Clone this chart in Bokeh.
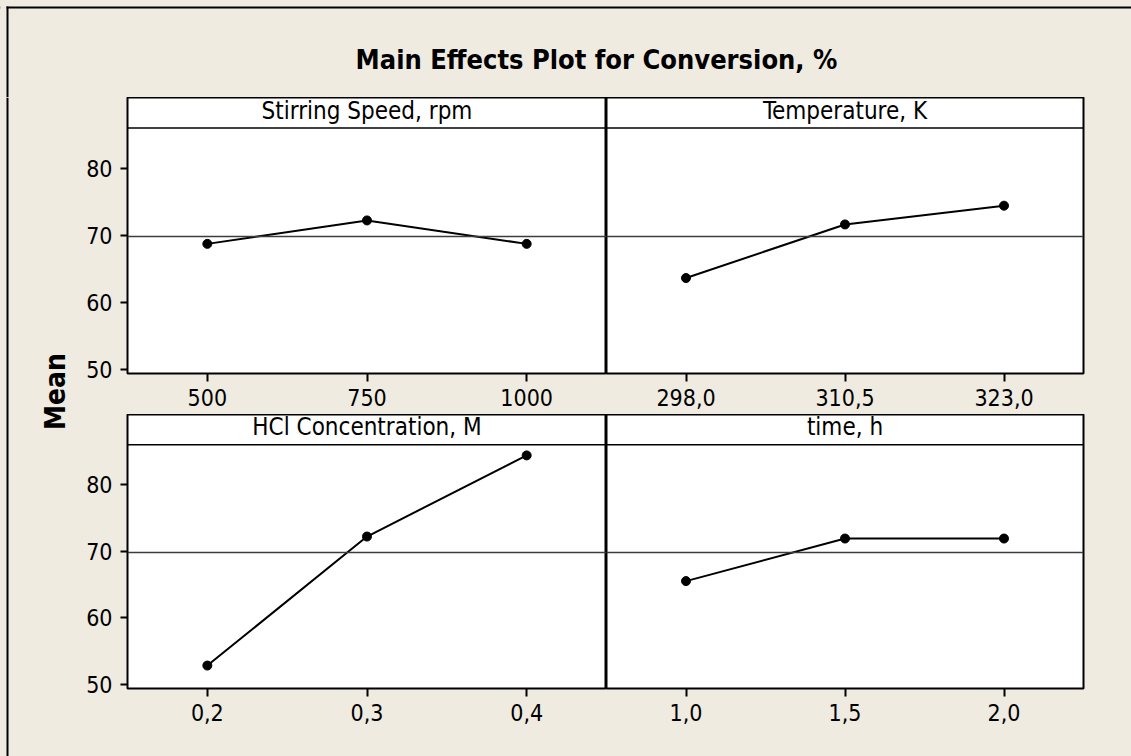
import math
from bokeh.plotting import figure
from bokeh.layouts import column, row
from bokeh.models import Range1d, FixedTicker, Span, Label, BoxAnnotation
from bokeh.embed import file_html
from bokeh.resources import INLINE

# ---------------- data ----------------
chart_title = "Main Effects Plot for Conversion, %"
y_label = "Mean"

stir_levels = [500, 750, 1000]
stir_means = [68.7, 72.2, 68.7]
stir_labels = ["500", "750", "1000"]

temp_levels = [298.0, 310.5, 323.0]
temp_means = [63.6, 71.6, 74.4]
temp_labels = ["298,0", "310,5", "323,0"]

hcl_levels = [0.2, 0.3, 0.4]
hcl_means = [52.8, 72.2, 84.4]
hcl_labels = ["0,2", "0,3", "0,4"]

time_levels = [1.0, 1.5, 2.0]
time_means = [65.5, 71.9, 71.9]
time_labels = ["1,0", "1,5", "2,0"]

panel_names = ["Stirring Speed, rpm", "Temperature, K", "HCl Concentration, M", "time, h"]
grand_mean = 69.8
y_ticks = [50, 60, 70, 80]

# ---------------- style ----------------
BG = "#EFEBE1"
FONT = "DejaVu Sans Condensed"
Y_START, Y_END, STRIP_BOTTOM = 49.35, 90.55, 86.0


def panel(levels, means, labels, name, w, h, left, right, bottom, show_y):
    step = levels[1] - levels[0]
    p = figure(width=w, height=h, output_backend="svg", toolbar_location=None,
               x_range=Range1d(levels[0] - 0.5 * step, levels[-1] + 0.5 * step),
               y_range=Range1d(Y_START, Y_END),
               min_border_left=left, min_border_right=right,
               min_border_top=0, min_border_bottom=bottom,
               x_axis_location="below",
               y_axis_location="left" if show_y else None)
    p.background_fill_color = "white"
    p.border_fill_color = BG
    p.outline_line_color = "black"
    p.outline_line_width = 2
    p.grid.visible = False

    xa = p.xaxis[0]
    xa.ticker = FixedTicker(ticks=levels)
    xa.major_label_overrides = {lv: lb for lv, lb in zip(levels, labels)}
    xa.axis_line_color = None
    xa.major_tick_out = 8
    xa.major_tick_in = 0
    xa.major_tick_line_width = 2
    xa.minor_tick_line_color = None
    xa.major_label_text_font = FONT
    xa.major_label_text_font_size = "23px"
    xa.major_label_text_color = "black"
    xa.major_label_standoff = 7

    if show_y:
        ya = p.yaxis[0]
        ya.ticker = FixedTicker(ticks=y_ticks)
        ya.axis_line_color = None
        ya.major_tick_out = 7
        ya.major_tick_in = 0
        ya.major_tick_line_width = 2
        ya.minor_tick_line_color = None
        ya.major_label_text_font = FONT
        ya.major_label_text_font_size = "23px"
        ya.major_label_text_color = "black"
        ya.major_label_standoff = 8

    p.add_layout(Span(location=grand_mean, dimension="width",
                      line_color="#3c3c3c", line_width=1.6))
    p.add_layout(Span(location=STRIP_BOTTOM, dimension="width",
                      line_color="black", line_width=1.6))
    p.add_layout(Label(x=(levels[0] + levels[-1]) / 2, y=STRIP_BOTTOM + 2.6,
                       text=name, text_align="center", text_baseline="middle",
                       text_font=FONT, text_font_size="24px", text_color="black"))

    p.line(levels, means, line_color="black", line_width=2)
    p.scatter(levels, means, size=9, color="black")
    return p


tl = panel(stir_levels, stir_means, stir_labels, panel_names[0], 526, 317, 47, 0, 41, True)
tr = panel(temp_levels, temp_means, temp_labels, panel_names[1], 525, 317, 0, 48, 41, False)
bl = panel(hcl_levels, hcl_means, hcl_labels, panel_names[2], 526, 342, 47, 0, 68, True)
br = panel(time_levels, time_means, time_labels, panel_names[3], 525, 342, 0, 48, 68, False)


def blank(w, h):
    p = figure(width=w, height=h, output_backend="svg", toolbar_location=None,
               x_range=Range1d(0, w), y_range=Range1d(h, 0), min_border=0,
               x_axis_location=None, y_axis_location=None)
    p.background_fill_color = BG
    p.border_fill_color = BG
    p.outline_line_color = None
    p.grid.visible = False
    return p


def bar(color="black", **kw):
    return BoxAnnotation(fill_color=color, fill_alpha=1, line_color=None, **kw)


# title strip
tf = blank(1131, 97)
tf.add_layout(Span(location=7, dimension="width", line_color="black", line_width=2))
tf.add_layout(bar(color=BG, left=0, right=6, top=4, bottom=10))
tf.add_layout(bar(left=6, right=8, top=6, bottom=97))
tf.add_layout(Label(x=596, y=59, text=chart_title, text_align="center",
                    text_baseline="middle", text_font=FONT, text_font_style="bold",
                    text_font_size="27px", text_color="black"))

# y-label strip
yf = blank(80, 659)
yf.add_layout(bar(left=6, right=8, top=0, bottom=659))
yf.add_layout(Label(x=55, y=294, text=y_label, angle=math.pi / 2, text_align="center",
                    text_baseline="middle", text_font=FONT, text_font_style="bold",
                    text_font_size="28px", text_color="black"))

layout = column(tf, row(yf, column(row(tl, tr), row(bl, br))))

html = file_html(layout, INLINE)
css = ("<style>html, body {margin:0; padding:0; background:%s !important;} "
       "div {background-color:%s;}</style></head>") % (BG, BG)
html = html.replace("</head>", css, 1)
open("out.html", "w").write(html)
